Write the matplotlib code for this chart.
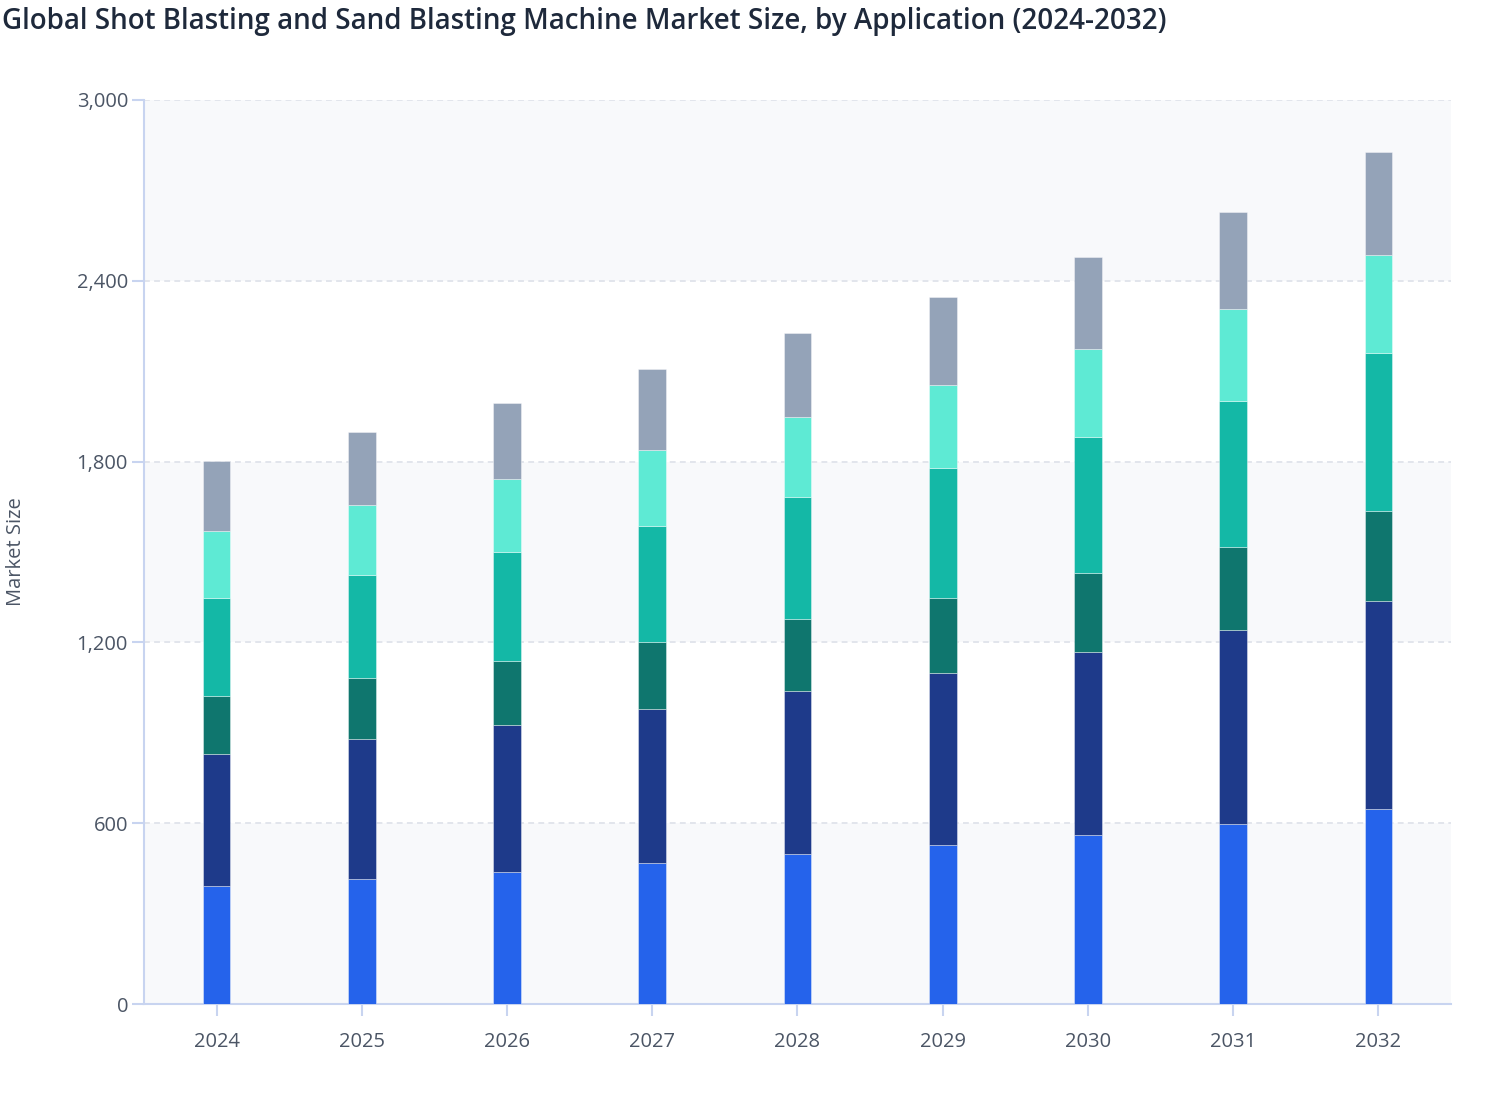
import matplotlib
matplotlib.use('Agg')
import matplotlib.pyplot as plt
import numpy as np
from matplotlib.ticker import FuncFormatter

plt.rcParams['font.family'] = ['Open Sans', 'DejaVu Sans']

# ----- data -----
years = ['2024', '2025', '2026', '2027', '2028', '2029', '2030', '2031', '2032']
series_names = ['Automotive', 'Construction', 'Shipbuilding', 'Aerospace', 'Metal Fabrication', 'Others']
automotive = [392, 415, 439, 468, 498, 526, 561, 598, 646]
construction = [439, 464, 486, 511, 542, 574, 606, 642, 692]
shipbuilding = [192, 202, 212, 223, 237, 249, 262, 277, 298]
aerospace = [325, 342, 363, 384, 405, 430, 453, 484, 525]
metal_fab = [222, 232, 241, 254, 266, 275, 293, 307, 324]
others = [232, 243, 253, 266, 278, 292, 304, 321, 342]
colors = ['#2563eb', '#1e3a8a', '#0f766e', '#14b8a6', '#5eead4', '#94a3b8']

all_series = [automotive, construction, shipbuilding, aerospace, metal_fab, others]

fig = plt.figure(figsize=(15.08, 11.2), dpi=100)
ax = fig.add_axes([144 / 1508, 116 / 1120, 1307 / 1508, 904 / 1120])

ymax = 3000
step = 600
# alternating background bands
for i, lo in enumerate(range(0, ymax, step)):
    ax.axhspan(lo, lo + step, color='#f8f9fb' if i % 2 == 0 else 'white', zorder=0, lw=0)

x = np.arange(len(years))
bottom = np.zeros(len(years))
for name, vals, c in zip(series_names, all_series, colors):
    ax.bar(x, vals, 0.19, bottom=bottom, color=c, label=name,
           edgecolor=(1, 1, 1, 0.45), linewidth=0.6, zorder=3)
    bottom += np.array(vals)

ax.set_xlim(-0.5, len(years) - 0.5)
ax.set_ylim(0, ymax)
ax.set_yticks(np.arange(0, ymax + 1, step))
ax.yaxis.set_major_formatter(FuncFormatter(lambda v, p: f'{int(v):,}'))
ax.set_xticks(x)
ax.set_xticklabels(years)

ax.grid(axis='y', color='#e2e5ec', linestyle=(0, (3, 2.2)), linewidth=1.4, zorder=1)
ax.set_axisbelow(True)

for s in ['top', 'right']:
    ax.spines[s].set_visible(False)
for s in ['left', 'bottom']:
    ax.spines[s].set_color('#c8d4f0')
    ax.spines[s].set_linewidth(1.5)

ax.tick_params(axis='both', colors='#c8d4f0', width=1.5, length=8.5, labelcolor='#4b5565', labelsize=14.5)
ax.tick_params(axis='x', pad=12)
ax.tick_params(axis='y', pad=3)

ax.set_ylabel('Market Size', fontsize=14.5, color='#4b5565', va='center')
ax.yaxis.set_label_coords(-0.098, 0.5)

fig.text(0.001, 0.994, 'Global Shot Blasting and Sand Blasting Machine Market Size, by Application (2024-2032)',
         fontsize=20, color='#1e293b', fontweight='semibold', ha='left', va='top')

fig.savefig('out.png', dpi=100)
plt.close(fig)
